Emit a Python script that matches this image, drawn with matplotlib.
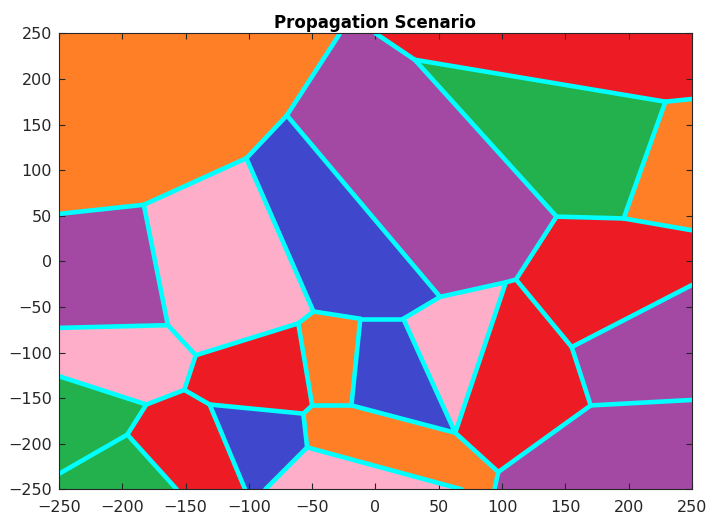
import numpy as np
import matplotlib
matplotlib.use("Agg")
import matplotlib.pyplot as plt

plt.rcParams['font.family'] = ['DejaVu Sans']

# voronoi vertices (x, y)
vx = [-250, -28, 0, 250, 250, 250, 250, 250, 250, 94, 68, -87, -103, -157, -250, -250, -250, -250, -250,
      -70, -102, -183, -164, -142, -151, -181, -196, -131, -57, -54, -61, -49, -50, -12, -19, 22, 51,
      111, 103, 143, 155, 170, 97, 63, 31, 229, 196]
vy = [250, 250, 250, 250, 178, 34, -26, -152, -250, -250, -250, -250, -250, -250, -250, -233, -126, -73, 52,
      160, 113, 62, -70, -103, -141, -157, -190, -157, -167, -204, -68, -55, -158, -63, -158, -63, -39,
      -20, -23, 49, -94, -158, -231, -188, 221, 175, 47]

# cells as vertex index lists
cells = [
    [0, 1, 19, 20, 21, 18],
    [1, 2, 44, 39, 37, 38, 36, 19],
    [2, 3, 4, 45, 44],
    [44, 45, 46, 39],
    [45, 4, 5, 46],
    [39, 46, 5, 6, 40, 37],
    [40, 6, 7, 41],
    [41, 7, 8, 9, 42],
    [38, 37, 40, 41, 42, 43],
    [36, 38, 43, 35],
    [33, 35, 43, 34],
    [20, 19, 36, 35, 33, 31],
    [21, 20, 31, 30, 23, 22],
    [30, 31, 33, 34, 32],
    [18, 21, 22, 17],
    [17, 22, 23, 24, 25, 16],
    [16, 25, 26, 15],
    [15, 26, 13, 14],
    [25, 24, 27, 12, 13, 26],
    [23, 30, 32, 28, 27, 24],
    [27, 28, 29, 11, 12],
    [28, 32, 34, 43, 42, 9, 10, 29],
    [29, 10, 11],
]
cell_colors = ["orange", "purple", "red", "green", "orange", "red", "purple", "purple",
               "red", "pink", "blue", "blue", "pink", "orange", "purple", "pink", "green",
               "green", "red", "red", "blue", "orange", "pink"]

palette = {"orange": "#FF7F27", "purple": "#A349A4", "red": "#ED1C24",
           "green": "#22B14C", "blue": "#3F48CC", "pink": "#FFAEC9"}

fig = plt.figure(figsize=(7.09, 5.22), dpi=100)
ax = fig.add_axes([0.0832, 0.0626, 0.8928, 0.8736])

vx = np.array(vx)
vy = np.array(vy)

edges = set()
for cell, c in zip(cells, cell_colors):
    ax.fill(vx[cell], vy[cell], color=palette[c], lw=0, zorder=1)
    for a, b in zip(cell, cell[1:] + cell[:1]):
        # skip edges lying on the border of the box
        if (abs(vx[a]) == 250 and vx[a] == vx[b]) or (abs(vy[a]) == 250 and vy[a] == vy[b]):
            continue
        edges.add(tuple(sorted((a, b))))

for a, b in edges:
    ax.plot([vx[a], vx[b]], [vy[a], vy[b]], color="#00FFFF", lw=3.3,
            solid_capstyle="round", zorder=2)

ax.set_xlim(-250, 250)
ax.set_ylim(-250, 250)
ax.set_xticks(np.arange(-250, 251, 50))
ax.set_yticks(np.arange(-250, 251, 50))
ax.tick_params(direction="in", top=True, right=True, labelsize=11.5, colors="#262626", length=4)
ax.tick_params(axis="x", pad=8)
ax.tick_params(axis="y", pad=5)
for s in ax.spines.values():
    s.set_color("#262626")
    s.set_linewidth(0.8)
    s.set_zorder(3)
ax.set_title("Propagation Scenario", fontsize=12, fontweight="bold", pad=4)

fig.savefig("out.png", dpi=100)
